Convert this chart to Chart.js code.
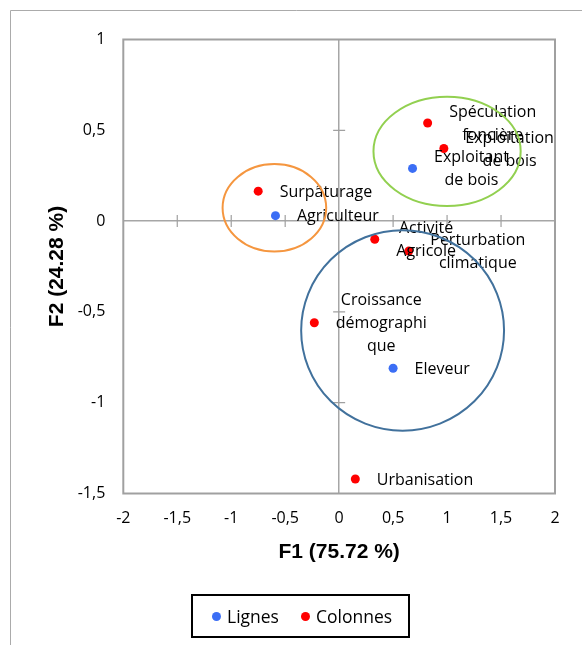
<!DOCTYPE html>
<html>
<head>
<meta charset="utf-8">
<script src="https://cdn.jsdelivr.net/npm/chart.js@4/dist/chart.umd.min.js"></script>
<style>
  body { margin: 0; background: #fff; }
  #wrap { position: relative; width: 582px; height: 645px; }
  #afc { position: absolute; left: 0; top: 0; }
  .legende {
    position: absolute; left: 191px; top: 594px; width: 215px; height: 40px;
    border: 2px solid #000; font: 17.5px 'Open Sans', sans-serif; color: #000;
  }
  .legende span { position: absolute; top: 0; line-height: 40px; white-space: nowrap; }
  .legende i { position: absolute; top: 16px; width: 9px; height: 9px; border-radius: 50%; }
</style>
</head>
<body>
<div id="wrap">
  <canvas id="afc" width="582" height="645"></canvas>
  <div class="legende">
    <i style="left:19px;background:#3B6EF5"></i><span style="left:34px">Lignes</span>
    <i style="left:108px;background:#FF0000"></i><span style="left:123px">Colonnes</span>
  </div>
</div>
<script>
// Lignes (acteurs)
const lignesNoms = ['Agriculteur', 'Exploitant\nde bois', 'Eleveur'];
const lignesF1 = [-0.59, 0.68, 0.50];
const lignesF2 = [0.03, 0.29, -0.81];

// Colonnes (facteurs)
const colonnesNoms = ['Surpâturage', 'Spéculation\nfoncière', 'Exploitation\nde bois', 'Activité\nAgricole',
  'Perturbation\nclimatique', 'Croissance\ndémographi\nque', 'Urbanisation'];
const colonnesF1 = [-0.75, 0.82, 0.97, 0.33, 0.645, -0.23, 0.15];
const colonnesF2 = [0.165, 0.54, 0.40, -0.10, -0.165, -0.56, -1.42];

// Graduations des axes
const ticksF1 = [-2, -1.5, -1, -0.5, 0, 0.5, 1, 1.5, 2];
const ticksF2 = [-1.5, -1, -0.5, 0, 0.5, 1];

// Regroupements entourés (centre et demi-axes en unités des axes)
const groupes = [
  { cx: -0.60, cy: 0.073, rx: 0.48, ry: 0.241, couleur: '#F5963F' },
  { cx: 1.00, cy: 0.384, rx: 0.682, ry: 0.301, couleur: '#92D050' },
  { cx: 0.588, cy: -0.602, rx: 0.94, ry: 0.552, couleur: '#41719C' }
];

const virgule = v => String(v).replace('.', ',');
const points = (xs, ys) => xs.map((x, i) => ({ x: x, y: ys[i] }));

const decor = {
  id: 'decor',
  beforeDraw(chart) {
    const ctx = chart.ctx;
    ctx.save();
    ctx.strokeStyle = '#ABABAB';
    ctx.lineWidth = 1;
    ctx.beginPath();
    ctx.moveTo(10.5, 645);
    ctx.lineTo(10.5, 10.5);
    ctx.lineTo(582, 10.5);
    ctx.stroke();
    ctx.restore();
  },
  beforeDatasetsDraw(chart) {
    const { ctx, chartArea: a, scales: { x, y } } = chart;
    ctx.save();
    ctx.strokeStyle = '#A0A0A0';
    ctx.lineWidth = 2;
    ctx.strokeRect(a.left, a.top, a.right - a.left, a.bottom - a.top);
    // petites graduations en croix sur les axes passant par 0
    ctx.lineWidth = 1.2;
    const x0 = x.getPixelForValue(0), y0 = y.getPixelForValue(0);
    ctx.beginPath();
    ticksF1.slice(1, -1).forEach(v => {
      if (v === 0) return;
      const px = x.getPixelForValue(v);
      ctx.moveTo(px, y0 - 6); ctx.lineTo(px, y0 + 6);
    });
    ticksF2.slice(1, -1).forEach(v => {
      if (v === 0) return;
      const py = y.getPixelForValue(v);
      ctx.moveTo(x0 - 6, py); ctx.lineTo(x0 + 6, py);
    });
    ctx.stroke();
    ctx.restore();
  },
  afterDatasetsDraw(chart) {
    const ctx = chart.ctx;
    ctx.save();
    ctx.font = "16px 'Open Sans'";
    ctx.fillStyle = '#000';
    ctx.textAlign = 'center';
    ctx.textBaseline = 'middle';
    chart.data.datasets.forEach((ds, di) => {
      chart.getDatasetMeta(di).data.forEach((el, i) => {
        const lignes = ds.noms[i].split('\n');
        const w = Math.max(...lignes.map(t => ctx.measureText(t).width));
        const cx = el.x + 21.5 + w / 2;
        lignes.forEach((t, k) => {
          ctx.fillText(t, cx, el.y + 1 + (k - (lignes.length - 1) / 2) * 23);
        });
      });
    });
    ctx.restore();
  },
  afterDraw(chart) {
    const { ctx, scales: { x, y } } = chart;
    ctx.save();
    ctx.lineWidth = 2;
    groupes.forEach(g => {
      const cx = x.getPixelForValue(g.cx), cy = y.getPixelForValue(g.cy);
      const rx = Math.abs(x.getPixelForValue(g.cx + g.rx) - cx);
      const ry = Math.abs(y.getPixelForValue(g.cy + g.ry) - cy);
      ctx.strokeStyle = g.couleur;
      ctx.beginPath();
      ctx.ellipse(cx, cy, rx, ry, 0, 0, Math.PI * 2);
      ctx.stroke();
    });
    ctx.restore();
  }
};

new Chart(document.getElementById('afc'), {
  type: 'scatter',
  data: {
    datasets: [
      { label: 'Lignes', noms: lignesNoms, data: points(lignesF1, lignesF2), backgroundColor: '#3B6EF5' },
      { label: 'Colonnes', noms: colonnesNoms, data: points(colonnesF1, colonnesF2), backgroundColor: '#FF0000' }
    ]
  },
  options: {
    responsive: false,
    animation: false,
    devicePixelRatio: 1,
    layout: { padding: { left: 0, top: 39.5, right: 27, bottom: 0 } },
    elements: { point: { radius: 4.5, borderWidth: 0, hoverRadius: 4.5 } },
    plugins: { legend: { display: false }, tooltip: { enabled: false } },
    scales: {
      x: {
        type: 'linear', min: -2, max: 2,
        afterBuildTicks: s => { s.ticks = ticksF1.map(v => ({ value: v })); },
        afterFit: s => { s.height = 151.5; },
        border: { display: false },
        grid: {
          drawTicks: false, lineWidth: 1.5,
          color: c => (c.tick && c.tick.value === 0 ? '#A6A6A6' : 'rgba(0,0,0,0)')
        },
        ticks: { callback: virgule, color: '#000', padding: 15, font: { family: 'Open Sans', size: 16 }, maxRotation: 0 },
        title: {
          display: true, text: 'F1 (75.72 %)', color: '#000',
          font: { family: 'Liberation Sans', size: 21, weight: 'bold' },
          padding: { top: 0, bottom: 80 }
        }
      },
      y: {
        type: 'linear', min: -1.5, max: 1,
        afterBuildTicks: s => { s.ticks = ticksF2.map(v => ({ value: v })); },
        afterFit: s => { s.width = 123.3; },
        border: { display: false },
        grid: {
          drawTicks: false, lineWidth: 1.5,
          color: c => (c.tick && c.tick.value === 0 ? '#A6A6A6' : 'rgba(0,0,0,0)')
        },
        ticks: { callback: virgule, color: '#000', padding: 18, font: { family: 'Open Sans', size: 16 } },
        title: {
          display: true, text: 'F2 (24.28 %)', color: '#000',
          font: { family: 'Liberation Sans', size: 21, weight: 'bold' },
          padding: { top: 45, bottom: 0 }
        }
      }
    }
  },
  plugins: [decor]
});
</script>
</body>
</html>
